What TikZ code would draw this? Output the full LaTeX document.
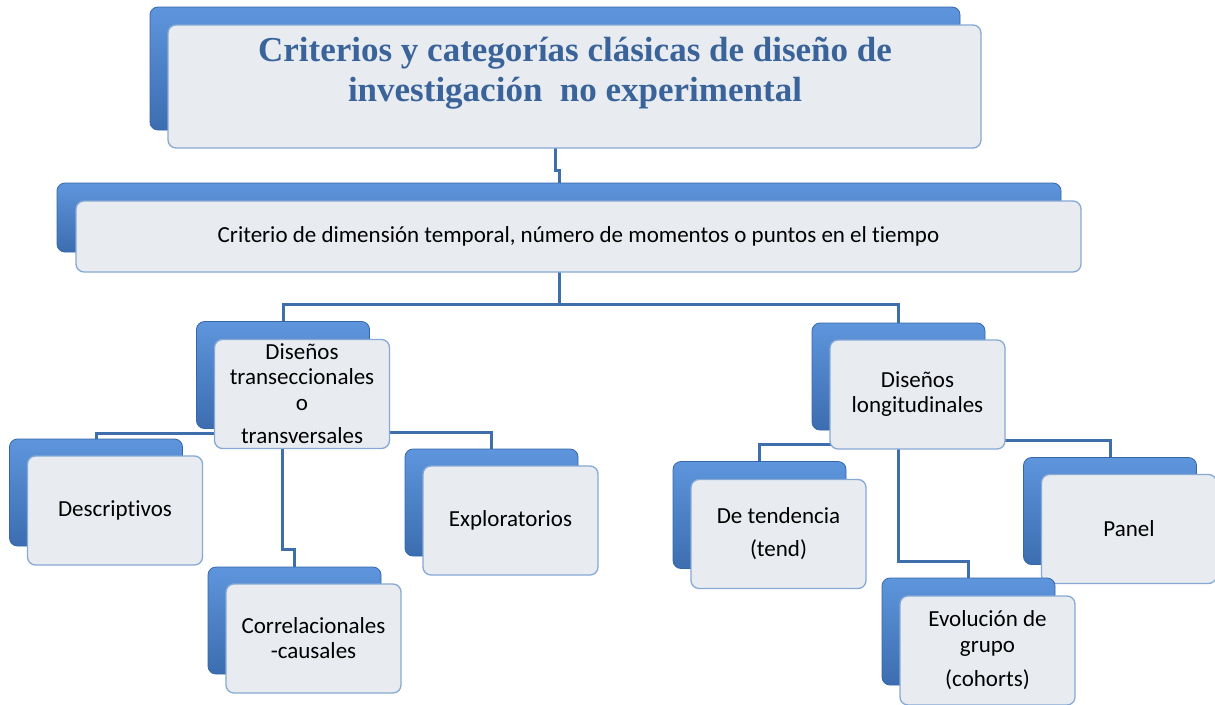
\documentclass[tikz,border=0pt]{standalone}
\usepackage{fontspec}
\setmainfont{Carlito}[Ligatures=NoCommon]
\newfontfamily\titlefont{Liberation Serif}
\usepackage{xcolor}
\usepackage{tikz}
\usetikzlibrary{positioning}
\definecolor{titletext}{HTML}{3A6399}
\definecolor{backtop}{HTML}{5E95DC}
\definecolor{backbot}{HTML}{3C6DB0}
\definecolor{backedge}{HTML}{3566A8}
\definecolor{frontfill}{HTML}{E8ECF1}
\definecolor{frontedge}{HTML}{86A8D4}
\definecolor{linkblue}{HTML}{3F6EAD}
\pgfdeclarelayer{bg}
\pgfsetlayers{bg,main}
\tikzset{
  backbox/.style={rounded corners=8pt, top color=backtop, bottom color=backbot, draw=backedge, line width=0.8pt, inner sep=0pt},
  frontbox/.style={rounded corners=8pt, fill=frontfill, draw=frontedge, line width=1.3pt, inner sep=0pt, align=center,
    font=\fontsize{23}{25}\selectfont},
  smallback/.style={backbox, minimum width=173pt, minimum height=107pt},
  smallfront/.style={frontbox, minimum width=175pt, minimum height=109pt},
  link/.style={draw=linkblue, line width=3pt},
}

\begin{document}
\begin{tikzpicture}[x=1pt, y=-1pt]
  \useasboundingbox (0,0) rectangle (1215,704);
  % title
  \node[backbox, minimum width=810pt, minimum height=123pt] (titleback) at (555,68.5) {};
  \node[frontbox, minimum width=813pt, minimum height=123pt] (titlefront) at (574.5,86.5) {};
  \node[align=center, text=titletext, font=\titlefont\bfseries\fontsize{35}{40}\selectfont] (titletxt) at (575,73)
    {Criterios y categorías clásicas de diseño de\\investigación~ no experimental};
  % criterion
  \node[backbox, minimum width=1004pt, minimum height=69pt] (critback) at (559,217.5) {};
  \node[frontbox, minimum width=1005pt, minimum height=71pt] (critfront) at (578.5,236.5)
    {Criterio de dimensión temporal, número de momentos o puntos en el tiempo};
  % cross-sectional branch
  \node[smallback] (transback) at (283,375) {};
  \node[smallfront] (transfront) at ([shift={(19,19)}]transback.center)
    {Diseños\\transeccionales\\[1pt]o\\[8pt]transversales};
  \node[smallback] (descback) at (96,492.5) {};
  \node[smallfront] (descfront) at ([shift={(19,18)}]descback.center) {Descriptivos};
  \node[smallback] (corrback) at (294.5,620.5) {};
  \node[smallfront] (corrfront) at ([shift={(19,18)}]corrback.center) {Correlacionales\\-causales};
  \node[smallback] (explback) at (491.5,502.5) {};
  \node[smallfront] (explfront) at ([shift={(19,18)}]explback.center) {Exploratorios};
  % longitudinal branch
  \node[smallback] (longback) at (898.5,376.5) {};
  \node[smallfront] (longfront) at ([shift={(19,18)}]longback.center) {Diseños\\longitudinales};
  \node[smallback] (tendback) at (759.5,515) {};
  \node[smallfront] (tendfront) at ([shift={(19,19)}]tendback.center) {De tendencia\\[8pt](tend)};
  \node[smallback] (panelback) at (1110,511) {};
  \node[smallfront] (panelfront) at ([shift={(19,18)}]panelback.center) {Panel};
  \node[smallback] (evolback) at (968.5,631.5) {};
  \node[smallfront] (evolfront) at ([shift={(19,19)}]evolback.center) {Evolución de\\[1pt]grupo\\[9pt](cohorts)};
  % connectors
  \begin{pgfonlayer}{bg}
    \draw[link] (titleback.center) |- ([yshift=12pt]critback.north) -- (critback.north);
    \draw[link] (critback.center) |- ([yshift=17pt]transback.north) -- (transback.north);
    \draw[link] (critback.center) |- ([yshift=18pt]longback.north) -- (longback.north);
    \draw[link] (transback.center) |- ([yshift=5pt]descback.north) -- (descback.north);
    \draw[link] (transback.center) |- ([yshift=16pt]explback.north) -- (explback.north);
    \draw[link] ([xshift=-1pt]transback.center) |- ([yshift=17pt]corrback.north) -- (corrback.north);
    \draw[link] (longback.center) |- ([yshift=17pt]tendback.north) -- (tendback.north);
    \draw[link] (longback.center) |- ([yshift=17pt]panelback.north) -- (panelback.north);
    \draw[link] (longback.center) |- ([yshift=16pt]evolback.north) -- (evolback.north);
  \end{pgfonlayer}
\end{tikzpicture}
\end{document}
